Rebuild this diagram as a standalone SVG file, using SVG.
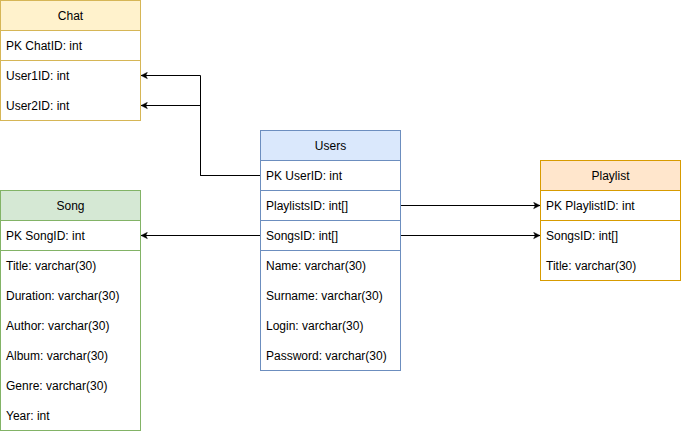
<svg xmlns="http://www.w3.org/2000/svg" width="681" height="431" viewBox="0 0 681 431">
<defs>
<style>
text{font-family:"Liberation Sans",Arial,sans-serif;font-size:12px;fill:#000}
.h{text-anchor:middle}
.b{fill:#fff}
.e{stroke:#000;stroke-width:1;fill:none}
.chat{stroke:#d6b656}
.users{stroke:#6c8ebf}
.pl{stroke:#d79b00}
.song{stroke:#82b366}
</style>
<marker id="arr" viewBox="0 0 10 10" refX="9" refY="5" markerWidth="8" markerHeight="8" markerUnits="userSpaceOnUse" orient="auto">
<path d="M1,1 L9,5 L1,9 L3,5 z" fill="#000" stroke="#000" stroke-width="0.5"/>
</marker>
</defs>
<rect width="681" height="431" fill="#fff"/>
<g id="connectors">
<path class="e" d="M260.5,175.5 H200.5 V75.5 H141" marker-end="url(#arr)"/>
<path class="e" d="M260.5,175.5 H200.5 V105.5 H141" marker-end="url(#arr)"/>
<path class="e" d="M260.5,235.5 H141" marker-end="url(#arr)"/>
<path class="e" d="M400.5,205.5 H540" marker-end="url(#arr)"/>
<path class="e" d="M400.5,235.5 H540" marker-end="url(#arr)"/>
</g>
<g id="chat">
<rect x="0.5" y="0.5" width="140" height="120" class="b chat"/>
<rect x="0.5" y="0.5" width="140" height="30" fill="#fff2cc" class="chat"/>
<line x1="0.5" y1="60.5" x2="140.5" y2="60.5" class="chat"/>
<text x="70.5" y="20" class="h">Chat</text>
<text x="6" y="50">PK ChatID: int</text>
<text x="6" y="80">User1ID: int</text>
<text x="6" y="110">User2ID: int</text>
</g>
<g id="users">
<rect x="260.5" y="130.5" width="140" height="240" class="b users"/>
<rect x="260.5" y="130.5" width="140" height="30" fill="#dae8fc" class="users"/>
<line x1="260.5" y1="190.5" x2="400.5" y2="190.5" class="users"/>
<line x1="260.5" y1="220.5" x2="400.5" y2="220.5" class="users"/>
<line x1="260.5" y1="250.5" x2="400.5" y2="250.5" class="users"/>
<text x="330.5" y="150" class="h">Users</text>
<text x="266" y="180">PK UserID: int</text>
<text x="266" y="210">PlaylistsID: int[]</text>
<text x="266" y="240">SongsID: int[]</text>
<text x="266" y="270">Name: varchar(30)</text>
<text x="266" y="300">Surname: varchar(30)</text>
<text x="266" y="330">Login: varchar(30)</text>
<text x="266" y="360">Password: varchar(30)</text>
</g>
<g id="playlist">
<rect x="540.5" y="160.5" width="140" height="120" class="b pl"/>
<rect x="540.5" y="160.5" width="140" height="30" fill="#ffe6cc" class="pl"/>
<line x1="540.5" y1="220.5" x2="680.5" y2="220.5" class="pl"/>
<text x="610.5" y="180" class="h">Playlist</text>
<text x="546" y="210">PK PlaylistID: int</text>
<text x="546" y="240">SongsID: int[]</text>
<text x="546" y="270">Title: varchar(30)</text>
</g>
<g id="song">
<rect x="0.5" y="190.5" width="140" height="240" class="b song"/>
<rect x="0.5" y="190.5" width="140" height="30" fill="#d5e8d4" class="song"/>
<line x1="0.5" y1="250.5" x2="140.5" y2="250.5" class="song"/>
<text x="70.5" y="210" class="h">Song</text>
<text x="6" y="240">PK SongID: int</text>
<text x="6" y="270">Title: varchar(30)</text>
<text x="6" y="300">Duration: varchar(30)</text>
<text x="6" y="330">Author: varchar(30)</text>
<text x="6" y="360">Album: varchar(30)</text>
<text x="6" y="390">Genre: varchar(30)</text>
<text x="6" y="420">Year: int</text>
</g>
</svg>
